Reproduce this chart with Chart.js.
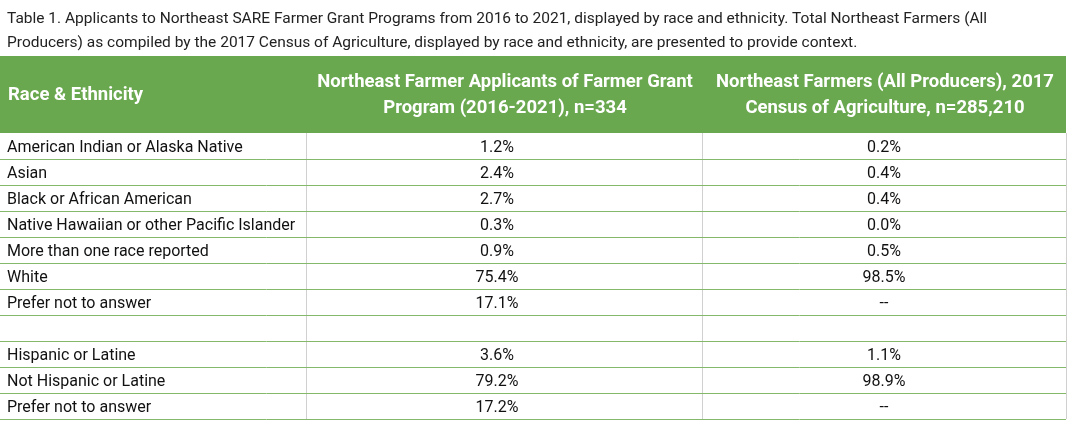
<!DOCTYPE html>
<html>
<head>
<meta charset="utf-8">
<script src="https://cdn.jsdelivr.net/npm/chart.js@4.4.0/dist/chart.umd.min.js"></script>
<style>
  html, body { margin: 0; padding: 0; background: #fff; }
  #wrap { width: 1068px; height: 424px; }
</style>
</head>
<body>
<div id="wrap"><canvas id="tbl"></canvas></div>
<script>
// table content
const titleLines = [
    'Table 1. Applicants to Northeast SARE Farmer Grant Programs from 2016 to 2021, displayed by race and ethnicity. Total Northeast Farmers (All',
    'Producers) as compiled by the 2017 Census of Agriculture, displayed by race and ethnicity, are presented to provide context.'
];
const headers = [
    ['Race & Ethnicity'],
    ['Northeast Farmer Applicants of Farmer Grant', 'Program (2016-2021), n=334'],
    ['Northeast Farmers (All Producers), 2017', 'Census of Agriculture, n=285,210']
];
const categories = [
    'American Indian or Alaska Native', 'Asian', 'Black or African American',
    'Native Hawaiian or other Pacific Islander', 'More than one race reported', 'White',
    'Prefer not to answer', '', 'Hispanic or Latine', 'Not Hispanic or Latine', 'Prefer not to answer'
];
const applicants = ['1.2%', '2.4%', '2.7%', '0.3%', '0.9%', '75.4%', '17.1%', '', '3.6%', '79.2%', '17.2%'];
const allProducers = ['0.2%', '0.4%', '0.4%', '0.0%', '0.5%', '98.5%', '--', '', '1.1%', '98.9%', '--'];

const colEdges = [0, 306, 702, 1066];
const font = 'Roboto, "Liberation Sans", sans-serif';

const tablePlugin = {
    id: 'tablePlugin',
    afterDraw(chart) {
        const c = chart.ctx;
        const y = chart.scales.y;
        const area = chart.chartArea;
        const rowH = Math.abs(y.getPixelForValue(1) - y.getPixelForValue(0));
        c.save();

        // title
        c.fillStyle = '#222';
        c.font = '15.5px ' + font;
        c.textBaseline = 'alphabetic';
        c.textAlign = 'left';
        c.fillText(titleLines[0], 7, 23);
        c.fillText(titleLines[1], 7, 47);

        // header band
        const headTop = 56, headBot = area.top;
        c.fillStyle = '#6aa84f';
        c.fillRect(0, headTop, colEdges[3], headBot - headTop);
        c.fillStyle = '#fff';
        c.font = 'bold 18.5px ' + font;
        c.textBaseline = 'middle';
        c.textAlign = 'left';
        c.fillText(headers[0][0], 8, (headTop + headBot) / 2 + 1);
        c.textAlign = 'center';
        [1, 2].forEach(function (k) {
            const cx = (colEdges[k] + colEdges[k + 1]) / 2;
            c.fillText(headers[k][0], cx + 1, headTop + 26);
            c.fillText(headers[k][1], cx + 1, headTop + 52);
        });

        // grid
        c.lineWidth = 1;
        c.strokeStyle = '#d0d0d0';
        [1, 2, 3].forEach(function (k) {
            const x = colEdges[k] + 0.5;
            c.beginPath(); c.moveTo(x, headBot); c.lineTo(x, area.bottom); c.stroke();
        });
        c.strokeStyle = '#84b86a';
        for (let i = 0; i < categories.length; i++) {
            const yb = Math.round(y.getPixelForValue(i) + rowH / 2) + 0.5;
            c.beginPath(); c.moveTo(0, yb); c.lineTo(colEdges[3], yb); c.stroke();
        }

        // cells
        c.fillStyle = '#111';
        c.font = '16px ' + font;
        categories.forEach(function (label, i) {
            const yc = y.getPixelForValue(i) + 2;
            c.textAlign = 'left';
            c.fillText(label, 7, yc);
            c.textAlign = 'center';
            c.fillText(applicants[i], (colEdges[1] + colEdges[2]) / 2 - 7, yc);
            c.fillText(allProducers[i], (colEdges[2] + colEdges[3]) / 2, yc);
        });
        c.restore();
    }
};

new Chart(document.getElementById('tbl').getContext('2d'), {
    type: 'bar',
    data: {
        labels: categories.map(function (_, i) { return i; }),
        datasets: [{ data: categories.map(function () { return 0; }), backgroundColor: 'rgba(0,0,0,0)' }]
    },
    options: {
        indexAxis: 'y',
        responsive: true,
        maintainAspectRatio: false,
        animation: false,
        layout: { padding: { top: 133, bottom: 5, left: 0, right: 0 } },
        plugins: { legend: { display: false }, tooltip: { enabled: false } },
        scales: {
            y: { type: 'category', display: false, offset: true },
            x: { display: false, min: 0, max: 1 }
        }
    },
    plugins: [tablePlugin]
});
</script>
</body>
</html>
